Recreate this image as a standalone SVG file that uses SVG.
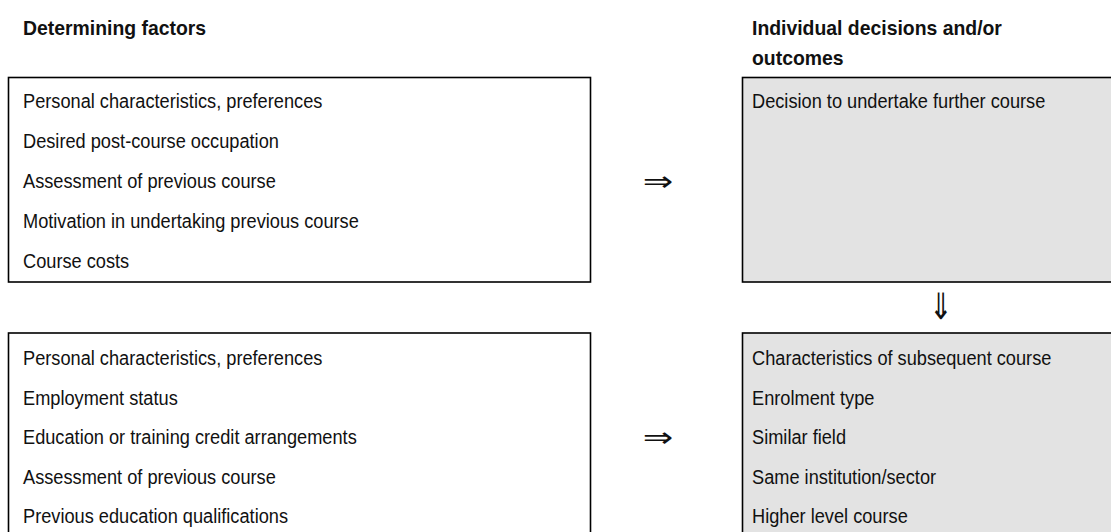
<svg xmlns="http://www.w3.org/2000/svg" width="1111" height="532" viewBox="0 0 1111 532">
<style>
.box{stroke:#000;stroke-width:1.6;fill:#fff}
.grey{fill:#e3e3e3}
.t{font-family:"Liberation Sans",Arial,sans-serif;font-size:21px;fill:#111}
.h{font-family:"Liberation Sans",Arial,sans-serif;font-size:20px;font-weight:bold;fill:#111}
.arr{font-family:"DejaVu Sans",sans-serif;font-size:28px;fill:#111}
</style>
<rect width="1111" height="532" fill="#fff"/>
<g id="headers">
<g transform="translate(23 0) scale(0.97 1)"><text class="h" x="0" y="35">Determining factors</text></g>
<g transform="translate(752 0) scale(0.97 1)"><text class="h" x="0" y="35">Individual decisions and/or</text><text class="h" x="0" y="65">outcomes</text></g>
</g>
<g id="factors1">
<rect class="box" x="8.5" y="77.5" width="582" height="204.5"/>
<g transform="translate(23 0) scale(0.867 1)">
<text class="t" x="0" y="108">Personal characteristics, preferences</text>
<text class="t" x="0" y="148">Desired post-course occupation</text>
<text class="t" x="0" y="188">Assessment of previous course</text>
<text class="t" x="0" y="228">Motivation in undertaking previous course</text>
<text class="t" x="0" y="268">Course costs</text>
</g>
</g>
<g id="decision">
<rect class="box grey" x="742.5" y="77.5" width="400" height="204.5"/>
<g transform="translate(752 0) scale(0.867 1)">
<text class="t" x="0" y="108">Decision to undertake further course</text>
</g>
</g>
<g id="factors2">
<rect class="box" x="8.5" y="333" width="582" height="250"/>
<g transform="translate(23 0) scale(0.867 1)">
<text class="t" x="0" y="365">Personal characteristics, preferences</text>
<text class="t" x="0" y="405">Employment status</text>
<text class="t" x="0" y="444">Education or training credit arrangements</text>
<text class="t" x="0" y="484">Assessment of previous course</text>
<text class="t" x="0" y="523">Previous education qualifications</text>
</g>
</g>
<g id="outcomes">
<rect class="box grey" x="742.5" y="333" width="400" height="250"/>
<g transform="translate(752 0) scale(0.867 1)">
<text class="t" x="0" y="365">Characteristics of subsequent course</text>
<text class="t" x="0" y="405">Enrolment type</text>
<text class="t" x="0" y="444">Similar field</text>
<text class="t" x="0" y="484">Same institution/sector</text>
<text class="t" x="0" y="523">Higher level course</text>
</g>
</g>
<g id="connectors">
<g transform="translate(658 191) scale(1.3 1)"><text class="arr" x="0" y="0" text-anchor="middle">⇒</text></g>
<g transform="translate(658 447) scale(1.3 1)"><text class="arr" x="0" y="0" text-anchor="middle">⇒</text></g>
<g transform="translate(941 319) scale(1 1.3)"><text class="arr" x="0" y="0" text-anchor="middle">⇓</text></g>
</g>
</svg>
